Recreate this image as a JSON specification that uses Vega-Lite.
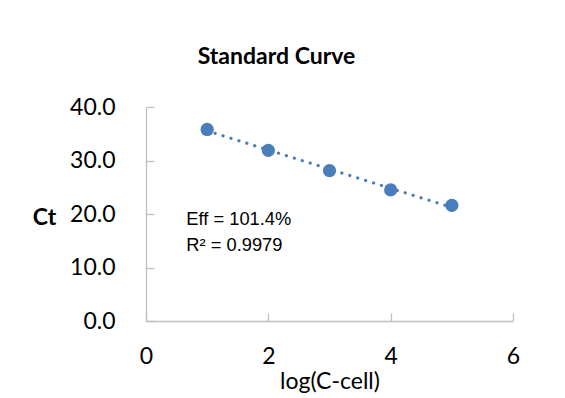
{
  "$schema": "https://vega.github.io/schema/vega-lite/v6.json",
  "autosize": "none",
  "width": 367,
  "height": 214,
  "padding": {"left": 146, "top": 107, "right": 52, "bottom": 77},
  "background": "white",
  "title": {
    "text": "Standard Curve",
    "font": "Lato",
    "fontSize": 23,
    "fontWeight": "bold",
    "color": "#000000",
    "anchor": "middle",
    "frame": "group",
    "dx": -53,
    "baseline": "alphabetic",
    "offset": 9
  },
  "config": {
    "view": {"stroke": null},
    "axis": {
      "grid": false,
      "domainColor": "#BFBFBF",
      "domainWidth": 1.3,
      "tickColor": "#BFBFBF",
      "tickWidth": 1.3,
      "labelFont": "Lato",
      "labelFontSize": 23,
      "labelColor": "#000000",
      "labelFlush": false,
      "titleFont": "Lato",
      "titleFontSize": 23,
      "titleColor": "#000000"
    }
  },
  "data": {
    "values": [
      {"logC": 1, "Ct": 35.8},
      {"logC": 2, "Ct": 31.9},
      {"logC": 3, "Ct": 28.1},
      {"logC": 4, "Ct": 24.5},
      {"logC": 5, "Ct": 21.6}
    ]
  },
  "layer": [
    {
      "transform": [{"regression": "Ct", "on": "logC", "extent": [1, 5]}],
      "mark": {"type": "line", "color": "#4A7EBB", "strokeWidth": 3.2, "strokeDash": [0.1, 8.2], "strokeCap": "round"},
      "encoding": {
        "x": {"field": "logC", "type": "quantitative"},
        "y": {"field": "Ct", "type": "quantitative"}
      }
    },
    {
      "mark": {"type": "point", "filled": true, "shape": "circle", "size": 175, "color": "#4A7EBB", "opacity": 1},
      "encoding": {
        "x": {
          "field": "logC",
          "type": "quantitative",
          "scale": {"domain": [0, 6], "nice": false, "zero": false},
          "axis": {
            "values": [0, 2, 4, 6],
            "format": "d",
            "title": "log(C-cell)",
            "tickSize": -8,
            "labelPadding": 32,
            "titlePadding": 2,
            "titleFontWeight": "normal"
          }
        },
        "y": {
          "field": "Ct",
          "type": "quantitative",
          "scale": {"domain": [0, 40], "nice": false, "zero": true},
          "axis": {
            "values": [0, 10, 20, 30, 40],
            "format": ".1f",
            "title": "Ct",
            "titleAngle": 0,
            "titleFontWeight": "bold",
            "titleAlign": "center",
            "titleBaseline": "middle",
            "titleX": -102,
            "titleY": 110,
            "tickSize": -8,
            "labelPadding": 39
          }
        }
      }
    },
    {
      "data": {"values": [{"annotation": "Eff = 101.4%\nR² = 0.9979"}]},
      "mark": {"type": "text", "align": "left", "baseline": "middle", "font": "Liberation Sans", "fontSize": 18.3, "lineHeight": 26, "lineBreak": "\n", "color": "#000000"},
      "encoding": {
        "text": {"field": "annotation"},
        "x": {"datum": 0.66},
        "y": {"datum": 18.8}
      }
    }
  ]
}
